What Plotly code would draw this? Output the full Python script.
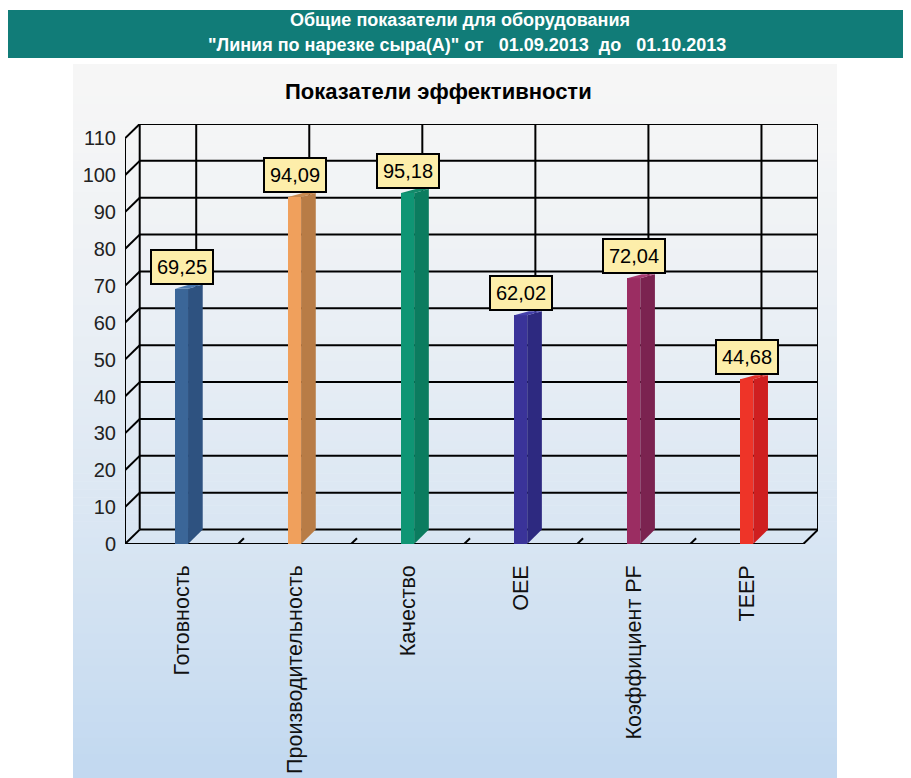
import plotly.graph_objects as go

# ---- data ----
categories = ["Готовность", "Производительность", "Качество", "OEE", "Коэффициент PF", "TEEP"]
values = [69.25, 94.09, 95.18, 62.02, 72.04, 44.68]
value_labels = ["69,25", "94,09", "95,18", "62,02", "72,04", "44,68"]
y_ticks = [0, 10, 20, 30, 40, 50, 60, 70, 80, 90, 100, 110]

front_colors = ["#3b6698", "#f0a05c", "#0f9574", "#3a3399", "#9b2d62", "#ee3428"]
side_colors = ["#2e5280", "#b87c46", "#0b7c5f", "#2d2980", "#7b2350", "#cf1f20"]
top_colors = ["#4a78ae", "#c98a50", "#128a6a", "#4540aa", "#a83a70", "#e0302a"]

title_line1 = "Общие показатели для оборудования"
title_line2 = "\"Линия по нарезке сыра(А)\" от\u00a0\u00a0\u00a001.09.2013\u00a0\u00a0до\u00a0\u00a0\u00a001.10.2013"
chart_title = "Показатели эффективности"

# ---- geometry ----
OFF = 8                      # page body margin
W, H = 911, 778
# plot area in screen pixels
SX0, SX1, SY0, SY1 = 125, 818, 124, 544
L = SX0 - OFF
R = W - (SX1 - OFF)
T = SY0 - OFF
B = H - (SY1 - OFF)
PW, PH = W - L - R, H - T - B
DX = 0.13        # depth offset in x data units
DY = 3.9         # depth offset in y data units
DT = 1.1         # bar top depth (y units)
BW = 0.115       # bar front width
YMAX = 110


def px_x(p):
    return (p - SX0) / PW


def px_y(p):
    return (SY1 - p) / PH


fig = go.Figure()

shapes = []
# panel gradient background
top_rgb = (246, 246, 246)
bot_rgb = (193, 216, 240)
y_start, y_end = 64, 786
n = 90
for k in range(n):
    t = (k / (n - 1)) ** 1.4
    c = tuple(int(round(top_rgb[j] + (bot_rgb[j] - top_rgb[j]) * t)) for j in range(3))
    y0 = y_start + (y_end - y_start) * k / n
    y1 = y_start + (y_end - y_start) * (k + 1) / n + 0.6
    shapes.append(dict(type="rect", xref="paper", yref="paper", layer="below",
                       x0=px_x(73), x1=px_x(837), y0=px_y(y1), y1=px_y(y0),
                       fillcolor="rgb(%d,%d,%d)" % c, line=dict(width=0)))
# header
shapes.append(dict(type="rect", xref="paper", yref="paper", layer="below",
                   x0=px_x(8), x1=px_x(925), y0=px_y(58), y1=px_y(10),
                   fillcolor="#117c78", line=dict(width=0)))

line = dict(color="black", width=2)
x_left = -0.5
x_right = len(categories) - 0.5
for yv in y_ticks:
    shapes.append(dict(type="line", xref="x", yref="y", layer="below",
                       x0=x_left + DX, x1=x_right + DX, y0=yv + DY, y1=yv + DY, line=line))
    shapes.append(dict(type="line", xref="x", yref="y", layer="below",
                       x0=x_left, x1=x_left + DX, y0=yv, y1=yv + DY, line=line))
shapes.append(dict(type="line", xref="x", yref="y", layer="below",
                   x0=x_left, x1=x_left, y0=0, y1=YMAX, line=line))
shapes.append(dict(type="line", xref="x", yref="y", layer="below",
                   x0=x_left + DX, x1=x_left + DX, y0=DY, y1=YMAX + DY, line=line))
for i in range(len(categories)):
    shapes.append(dict(type="line", xref="x", yref="y", layer="below",
                       x0=i + DX, x1=i + DX, y0=DY, y1=YMAX + DY, line=line))
shapes.append(dict(type="line", xref="x", yref="y", layer="below",
                   x0=x_right + DX, x1=x_right + DX, y0=DY, y1=YMAX + DY, line=line))
shapes.append(dict(type="line", xref="x", yref="y", layer="below",
                   x0=x_left, x1=x_right, y0=0, y1=0, line=line))
shapes.append(dict(type="line", xref="x", yref="y", layer="below",
                   x0=x_right, x1=x_right + DX, y0=0, y1=DY, line=line))
for k in range(len(categories) - 1):
    shapes.append(dict(type="line", xref="x", yref="y", layer="below",
                       x0=k + 0.5, x1=k + 0.5 + 0.4 * DX, y0=0, y1=0.4 * DY, line=line))

# bars: front faces
fig.add_trace(go.Bar(x=list(range(len(categories))), y=values, width=BW,
                     marker=dict(color=front_colors, line=dict(width=0)),
                     hoverinfo="skip", showlegend=False))
# side and top faces
for i, v in enumerate(values):
    xr = i + BW / 2
    xl = i - BW / 2
    fig.add_trace(go.Scatter(x=[xr, xr + DX, xr + DX, xr, xr], y=[0, DY, v + DT, v, 0],
                             fill="toself", fillcolor=side_colors[i], mode="lines",
                             line=dict(width=0, color=side_colors[i]),
                             hoverinfo="skip", showlegend=False))
    fig.add_trace(go.Scatter(x=[xl, xr, xr + DX, xl + DX, xl], y=[v, v, v + DT, v + DT, v],
                             fill="toself", fillcolor=top_colors[i], mode="lines",
                             line=dict(width=0, color=top_colors[i]),
                             hoverinfo="skip", showlegend=False))

FONT = "Arial, Liberation Sans"
annotations = []
for i, v in enumerate(values):
    annotations.append(dict(x=i, y=v + DT, xref="x", yref="y", text=value_labels[i],
                            showarrow=False, yanchor="bottom", xanchor="center", yshift=0,
                            font=dict(family=FONT, size=20, color="black"),
                            bgcolor="#fdeeaa", bordercolor="black", borderwidth=2, borderpad=5))
annotations.append(dict(x=px_x(438), y=px_y(91), xref="paper", yref="paper", text="<b>%s</b>" % chart_title,
                        showarrow=False, xanchor="center", yanchor="middle",
                        font=dict(family=FONT, size=22, color="black")))
annotations.append(dict(x=px_x(460), y=px_y(20), xref="paper", yref="paper", text="<b>%s</b>" % title_line1,
                        showarrow=False, xanchor="center", yanchor="middle",
                        font=dict(family=FONT, size=18, color="white")))
annotations.append(dict(x=px_x(467), y=px_y(45), xref="paper", yref="paper", text="<b>%s</b>" % title_line2,
                        showarrow=False, xanchor="center", yanchor="middle",
                        font=dict(family=FONT, size=18, color="white")))

fig.update_layout(
    width=W, height=H,
    margin=dict(l=L, r=R, t=T, b=B, pad=0),
    paper_bgcolor="white", plot_bgcolor="rgba(0,0,0,0)",
    shapes=shapes, annotations=annotations,
    showlegend=False, bargap=0,
    xaxis=dict(range=[x_left, x_right + DX], tickmode="array",
               tickvals=list(range(len(categories))), ticktext=categories,
               tickangle=-90, showgrid=False, zeroline=False, showline=False,
               ticks="", ticklabelstandoff=16,
               tickfont=dict(family=FONT, size=21.5, color="#111111"),
               fixedrange=True),
    yaxis=dict(range=[0, YMAX + DY], tickmode="array", tickvals=y_ticks,
               ticktext=[str(t) for t in y_ticks],
               showgrid=False, zeroline=False, showline=False, ticks="",
               ticklabelstandoff=8,
               tickfont=dict(family=FONT, size=20, color="#222222"),
               fixedrange=True),
)

fig.write_html("out.html")
